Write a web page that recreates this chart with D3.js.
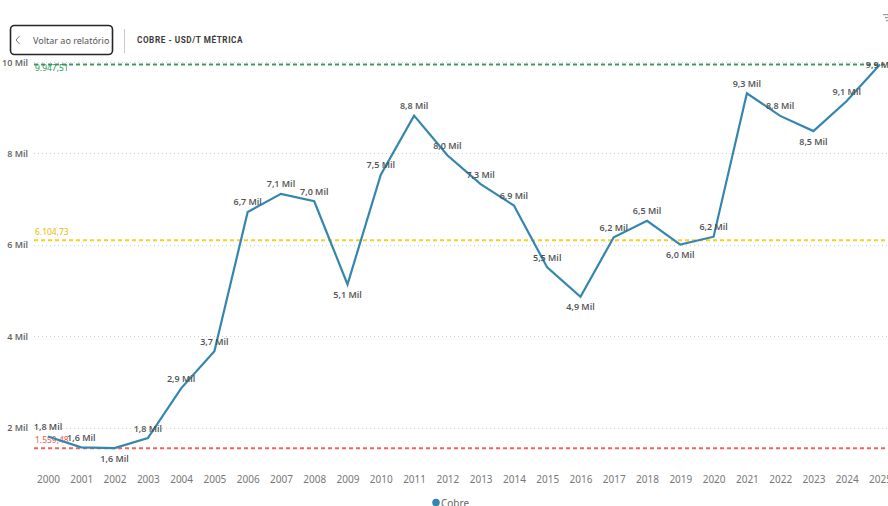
<!DOCTYPE html>
<html>
<head>
<meta charset="utf-8">
<script src="https://cdn.jsdelivr.net/npm/d3@7"></script>
<style>
  html, body { margin: 0; padding: 0; background: #fff; overflow: hidden; }
  svg { display: block; }
</style>
</head>
<body>
<svg id="chart" width="888" height="506"></svg>
<script>
// Preço médio anual do cobre (USD por tonelada métrica)
const years = [2000, 2001, 2002, 2003, 2004, 2005, 2006, 2007, 2008, 2009, 2010, 2011, 2012,
               2013, 2014, 2015, 2016, 2017, 2018, 2019, 2020, 2021, 2022, 2023, 2024, 2025];
const cobre = [1813, 1578, 1559.48, 1779, 2866, 3679, 6722, 7118, 6956, 5140, 7535, 8828, 7962,
               7332, 6863, 5510, 4868, 6170, 6530, 6010, 6181, 9317, 8822, 8490, 9146.99, 9947.51];
const yTicks = [2000, 4000, 6000, 8000, 10000];
// Linhas de referência: mínimo, média e máximo da série
const refKinds = ["min", "avg", "max"];
const refColors = { min: "#f2645a", avg: "#f5cf2a", max: "#3c9a5e" };
const refTextColors = { min: "#f0584c", avg: "#e9bb00", max: "#2f9352" };
// Rótulos que ficam abaixo do ponto (vales locais)
const labelsBelow = [2002, 2009, 2016, 2019, 2023];

const svg = d3.select("#chart");
const lineColor = "#3586ad";
const plotTop = 62;

const x = d3.scalePoint().domain(years).range([48, 880]);
const y = d3.scaleLinear().domain([1300, 10000]).range([460, plotTop]);

const ptBR = d3.formatLocale({ decimal: ",", thousands: ".", grouping: [3], currency: ["R$", ""] });
const fmtRef = ptBR.format(",.2f");
const fmtMil = v => ptBR.format(".1f")(v / 1000) + " Mil";
const fmtTick = v => (v / 1000) + " Mil";

// Cabeçalho: botão de voltar e título
const header = svg.append("g");
header.append("rect")
  .attr("x", 10.5).attr("y", 25.5).attr("width", 102).attr("height", 29).attr("rx", 4)
  .attr("fill", "#fff").attr("stroke", "#252525").attr("stroke-width", 1.6);
header.append("path")
  .attr("d", "M19.5,36 L16,40 L19.5,44")
  .attr("fill", "none").attr("stroke", "#777").attr("stroke-width", 1);
header.append("text")
  .attr("x", 33).attr("y", 40).attr("dominant-baseline", "central")
  .attr("font-family", "'Noto Sans', 'Open Sans', sans-serif").attr("font-size", 9)
  .attr("fill", "#555").text("Voltar ao relatório");
header.append("line")
  .attr("x1", 124.5).attr("x2", 124.5).attr("y1", 29).attr("y2", 53)
  .attr("stroke", "#c8c8c8").attr("stroke-width", 1);
header.append("text")
  .attr("x", 137).attr("y", 40).attr("dominant-baseline", "central")
  .attr("font-family", "Roboto, 'DejaVu Sans', sans-serif").attr("font-size", 8.2)
  .attr("font-weight", 700).attr("letter-spacing", 0.55)
  .attr("fill", "#3a3a3a").text("COBRE - USD/T MÉTRICA");

// pequeno ícone no canto superior direito
const icon = svg.append("g").attr("fill", "#9a9a9a");
icon.append("rect").attr("x", 883).attr("y", 14).attr("width", 5).attr("height", 1.2);
icon.append("rect").attr("x", 885).attr("y", 17).attr("width", 3).attr("height", 1.2);
icon.append("rect").attr("x", 886).attr("y", 20).attr("width", 2).attr("height", 1.2);

// Grade horizontal pontilhada e rótulos do eixo Y
const grid = svg.append("g");
grid.selectAll("line").data(yTicks).join("line")
  .attr("x1", 34).attr("x2", 888)
  .attr("y1", d => Math.round(y(d)) + 0.5).attr("y2", d => Math.round(y(d)) + 0.5)
  .attr("stroke", "#cfcfcf").attr("stroke-width", 1).attr("stroke-dasharray", "1,3");
grid.selectAll("text").data(yTicks).join("text")
  .attr("x", 28).attr("y", d => y(d)).attr("text-anchor", "end")
  .attr("dominant-baseline", "central")
  .attr("font-family", "'Open Sans', 'Noto Sans', sans-serif").attr("font-size", 9)
  .attr("font-weight", 600).attr("fill", "#606060")
  .text(fmtTick);

// Eixo X
const xAxis = svg.append("g").attr("transform", "translate(0,476)")
  .call(d3.axisBottom(x).tickSize(0).tickPadding(0).tickFormat(d3.format("d")));
xAxis.select(".domain").remove();
xAxis.selectAll("text")
  .attr("dy", "0.71em")
  .attr("font-family", "'Noto Sans', 'Open Sans', sans-serif").attr("font-size", 10)
  .attr("fill", "#777");

// Linhas de referência
const refValues = {
  min: d3.min(cobre),
  avg: d3.mean(cobre),
  max: d3.max(cobre)
};
const refs = svg.append("g");
refs.selectAll("line").data(refKinds).join("line")
  .attr("x1", 34).attr("x2", 888)
  .attr("y1", k => y(refValues[k])).attr("y2", k => y(refValues[k]))
  .attr("stroke", k => refColors[k]).attr("stroke-width", 2).attr("stroke-dasharray", "4,3");
refs.selectAll("text").data(refKinds).join("text")
  .attr("x", 35)
  .attr("y", k => k === "max" ? y(refValues[k]) + 3 : y(refValues[k]) - 9)
  .attr("dominant-baseline", "central")
  .attr("font-family", "'Noto Sans', 'Open Sans', sans-serif").attr("font-size", 8.5)
  .attr("fill", k => refTextColors[k])
  .text(k => fmtRef(refValues[k]));

// Série
const pts = years.map((yr, i) => ({ year: yr, value: cobre[i] }));
svg.append("path")
  .datum(pts)
  .attr("fill", "none").attr("stroke", lineColor).attr("stroke-width", 2.2)
  .attr("stroke-linejoin", "miter")
  .attr("d", d3.line().x(d => x(d.year)).y(d => y(d.value)));

// Rótulos de dados: acima do ponto, abaixo nos vales, e na altura do ponto
// quando não há espaço acima da área de plotagem
function labelY(d) {
  const py = y(d.value);
  if (labelsBelow.includes(d.year)) return py + 10;
  if (py - 10 < plotTop) return py;
  return py - 10;
}
svg.append("g").selectAll("text").data(pts).join("text")
  .attr("x", d => x(d.year))
  .attr("y", labelY)
  .attr("text-anchor", "middle").attr("dominant-baseline", "central")
  .attr("font-family", "'Open Sans', 'Noto Sans', sans-serif").attr("font-size", 9)
  .attr("font-weight", 600).attr("fill", "#505050")
  .text(d => fmtMil(d.value));

// Legenda
const legend = svg.append("g");
legend.append("circle").attr("cx", 436).attr("cy", 502.5).attr("r", 3.8).attr("fill", lineColor);
legend.append("text")
  .attr("x", 441).attr("y", 503).attr("dominant-baseline", "central")
  .attr("font-family", "'Noto Sans', 'Open Sans', sans-serif").attr("font-size", 10)
  .attr("fill", "#666").text("Cobre");
</script>
</body>
</html>
